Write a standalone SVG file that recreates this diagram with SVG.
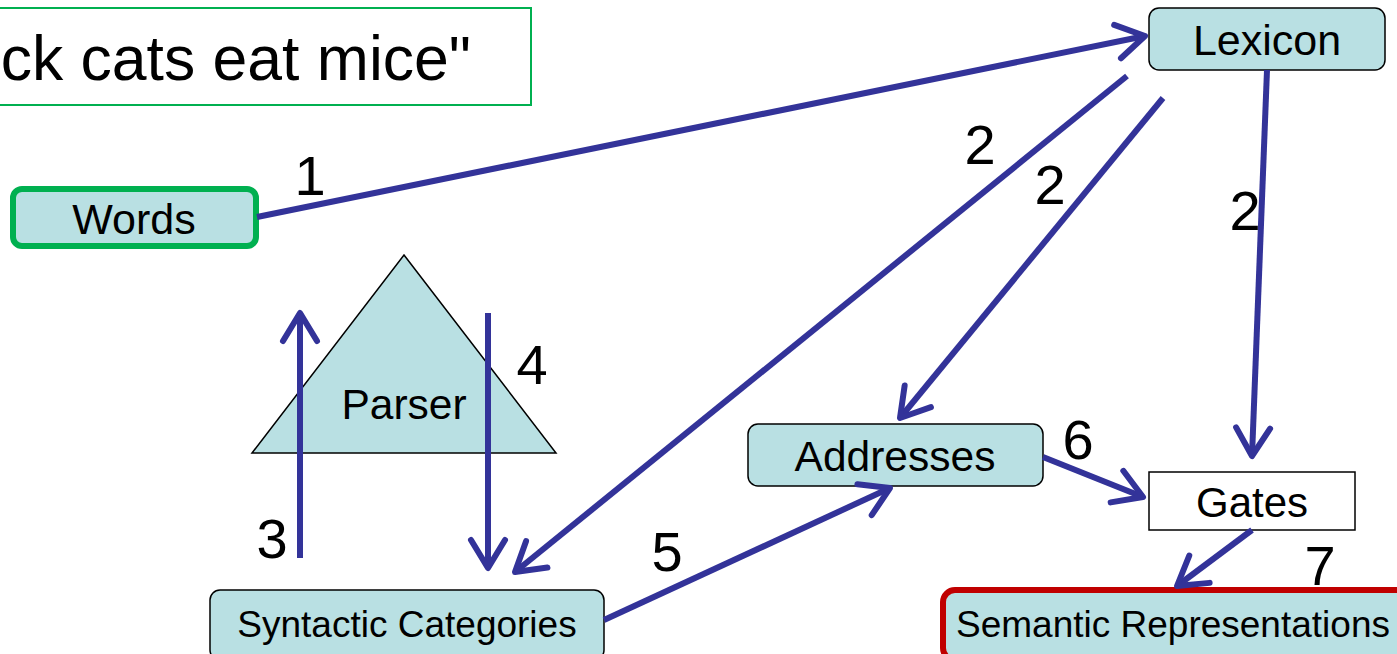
<svg xmlns="http://www.w3.org/2000/svg" width="1397" height="654" viewBox="0 0 1397 654">
<style>
text{font-family:"Liberation Sans",Arial,sans-serif;fill:#000}
.node{fill:#B9E0E3;stroke:#000;stroke-width:1.5}
.lbl{font-size:42.5px;text-anchor:middle}
.sm{font-size:37px}
.num{font-size:56px;text-anchor:middle}
.conn{stroke:#333399;stroke-width:6;fill:none;marker-end:url(#ah)}
</style>
<defs>
<marker id="ah" markerUnits="userSpaceOnUse" markerWidth="60" markerHeight="60" viewBox="-40 -30 60 60" refX="0" refY="0" orient="auto">
<path d="M-28,-17 L0,0 L-28,17" fill="none" stroke="#333399" stroke-width="6" stroke-linecap="round" stroke-linejoin="round"/>
</marker>
</defs>
<rect width="1397" height="654" fill="#fff"/>
<g id="title">
<rect x="-10" y="8" width="541" height="97" fill="#fff" stroke="#00B050" stroke-width="2"/>
<text x="471" y="80" font-size="62.5" text-anchor="end">ck cats eat mice"</text>
</g>
<g id="words">
<rect x="13" y="189" width="243" height="57" rx="9" class="node" style="stroke:#00B050;stroke-width:6"/>
<text x="134" y="234" class="lbl" style="font-size:43px">Words</text>
</g>
<g id="lexicon">
<rect x="1149" y="8" width="236" height="62" rx="10" class="node"/>
<text x="1267" y="55" class="lbl" style="font-size:43px">Lexicon</text>
</g>
<g id="parser">
<polygon points="404,255 556,453 252,453" class="node"/>
<text x="404" y="419" class="lbl">Parser</text>
</g>
<g id="addresses">
<rect x="748" y="424" width="295" height="62" rx="10" class="node"/>
<text x="895" y="471" class="lbl">Addresses</text>
</g>
<g id="gates">
<rect x="1149" y="472" width="206" height="58" fill="#fff" stroke="#000" stroke-width="1.5"/>
<text x="1252" y="517" class="lbl" style="font-size:42px">Gates</text>
</g>
<g id="syntactic">
<rect x="210" y="590" width="394" height="70" rx="10" class="node"/>
<text x="407" y="637" class="lbl sm">Syntactic Categories</text>
</g>
<g id="semantic">
<rect x="943" y="590" width="470" height="70" rx="12" class="node" style="stroke:#C00000;stroke-width:6"/>
<text x="956" y="637" class="sm">Semantic Representations</text>
</g>
<g id="connectors">
<line x1="257" y1="217" x2="1145" y2="36" class="conn"/>
<line x1="1127" y1="76" x2="515" y2="572" class="conn"/>
<line x1="1163" y1="98" x2="900" y2="418" class="conn"/>
<line x1="1267" y1="70" x2="1252" y2="456" class="conn"/>
<line x1="300" y1="558" x2="300" y2="313" class="conn"/>
<line x1="488" y1="313" x2="488" y2="568" class="conn"/>
<line x1="604" y1="620" x2="890" y2="488" class="conn"/>
<line x1="1043" y1="457" x2="1143" y2="497" class="conn"/>
<line x1="1252" y1="530" x2="1177" y2="586" class="conn"/>
</g>
<g id="labels">
<text x="310" y="195" class="num">1</text>
<text x="980" y="164" class="num">2</text>
<text x="1050" y="204" class="num">2</text>
<text x="1245" y="230" class="num">2</text>
<text x="272" y="558" class="num">3</text>
<text x="532" y="384" class="num">4</text>
<text x="667" y="571" class="num">5</text>
<text x="1078" y="459" class="num">6</text>
<text x="1320" y="585" class="num">7</text>
</g>
</svg>
